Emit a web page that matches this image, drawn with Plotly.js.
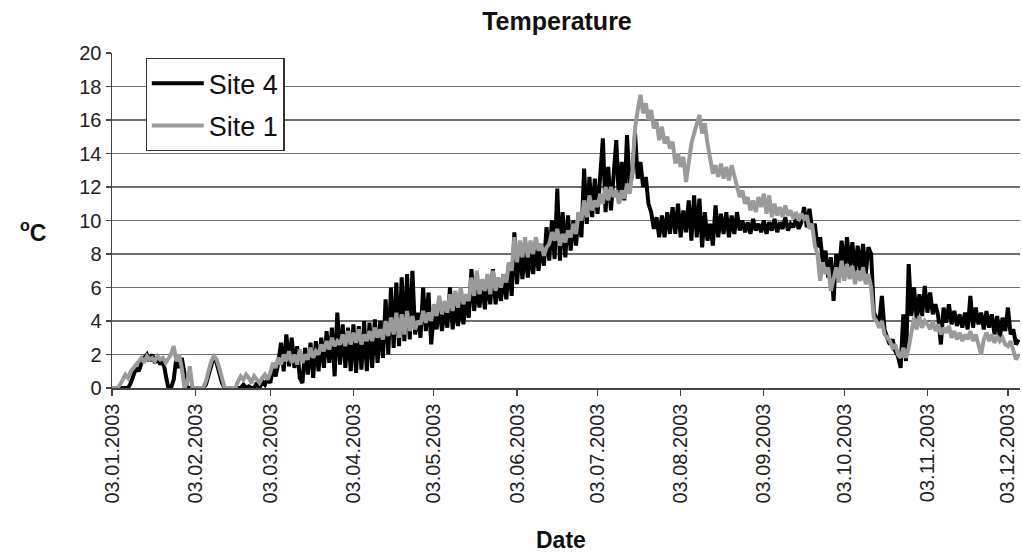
<!DOCTYPE html>
<html>
<head>
<meta charset="utf-8">
<script src="https://cdn.plot.ly/plotly-3.0.1.min.js"></script>
<style>
  html, body { margin: 0; padding: 0; background: #fff; }
  #chart { width: 1022px; height: 554px; }
</style>
</head>
<body>
<div id="chart"></div>
<script>
// Daily readings, first value = 3 Jan 2003
const startDate = "2003-01-03";

const site4 = [
  0, 0, 0, 0, 0,  0, 0, 0.3, 0.8, 1.2,
  1.0, 1.5, 1.8, 2.0, 1.6,  2.0, 1.5, 1.8, 1.4, 1.7,
  0.8, 0, 0, 0.5, 1.8,  1.2, 1.8, 0.9, 0, 0,
  0, 0, 0, 0, 0,  0.2, 0.8, 1.4, 1.9, 1.5,
  0.9, 0.3, 0, 0, 0,  0, 0, 0, 0, 0.2,
  0, 0.1, 0, 0, 0.3,  0, 0.4, 0.2, 0.6, 0.3,
  1.2, 0.7, 1.5, 2.7, 1.0,  3.2, 1.3, 3.0, 1.2, 2.5,
  0.6, 0.3, 2.4, 0.8, 2.7,  0.6, 2.8, 1.0, 3.0, 1.2,
  3.4, 1.5, 3.6, 0.7, 4.5,  1.4, 3.8, 1.2, 3.6, 1.0,
  3.8, 0.9, 3.7, 1.1, 4.0,  1.0, 3.9, 1.2, 4.1, 1.5,
  4.0, 1.8, 5.3, 2.0, 6.0,  2.4, 6.3, 2.5, 6.6, 2.8,
  6.8, 2.9, 7.0, 3.2, 4.5,  3.0, 6.0, 3.4, 5.7, 2.6,
  4.5, 3.5, 5.0, 3.4, 4.8,  3.6, 6.0, 3.5, 5.0, 3.7,
  5.2, 3.8, 5.5, 4.2, 7.1,  4.6, 6.0, 4.8, 6.3, 4.7,
  6.5, 5.0, 7.1, 5.0, 6.4,  5.2, 6.8, 5.3, 7.5, 5.5,
  9.3, 6.2, 8.6, 6.5, 8.4,  6.6, 8.2, 6.8, 8.5, 7.0,
  8.6, 7.3, 9.6, 7.6, 10.0,  7.7, 11.9, 7.6, 10.5, 7.8,
  10.3, 8.2, 10.0, 8.5, 10.5,  9.0, 13.1, 9.8, 12.6, 10.2,
  12.5, 10.4, 13.0, 14.9, 10.5,  13.2, 10.6, 12.8, 14.8, 11.0,
  13.5, 11.2, 15.1, 12.0, 12.8,  15.2, 12.5, 13.5, 12.0, 12.6,
  11.0, 10.5, 9.5, 10.2, 9.0,  10.3, 9.0, 10.5, 9.2, 10.8,
  9.2, 11.0, 9.0, 10.6, 9.3,  11.2, 8.8, 11.5, 9.0, 11.3,
  8.4, 10.5, 8.8, 9.8, 8.5,  10.9, 9.0, 10.4, 9.2, 10.5,
  9.0, 10.3, 9.2, 10.5, 9.4,  10.0, 9.3, 9.9, 9.2, 10.1,
  9.4, 9.8, 9.3, 10.0, 9.2,  9.9, 9.4, 10.1, 9.3, 9.9,
  9.5, 10.2, 9.4, 9.8, 9.6,  10.1, 9.5, 9.9, 10.8, 9.6,
  10.7, 9.5, 9.8, 8.4, 9.0,  7.5, 8.2, 6.6, 7.8, 5.2,
  8.0, 6.8, 8.8, 7.0, 9.0,  7.2, 8.7, 6.9, 8.5, 7.0,
  8.6, 6.8, 8.4, 8.0, 4.5,  4.2, 3.9, 5.5, 3.5, 3.0,
  2.6, 2.9, 2.2, 1.9, 1.2,  4.4, 1.6, 7.4, 4.3, 6.0,
  4.1, 5.6, 4.3, 6.1, 4.5,  5.7, 4.4, 5.0, 4.3, 2.6,
  4.8, 3.9, 5.0, 3.8, 4.6,  3.7, 4.4, 3.6, 4.5, 3.5,
  5.5, 3.6, 4.8, 3.8, 4.5,  3.5, 4.6, 3.6, 4.4, 3.2,
  4.3, 3.0, 4.2, 3.4, 4.8,  3.2, 3.5, 2.6, 2.9
];

const site1 = [
  0, 0, 0, 0.2, 0.5,  0.8, 0.6, 1.0, 1.2, 1.4,
  1.6, 1.8, 1.5, 1.9, 1.7,  1.8, 1.6, 1.9, 1.7, 1.8,
  1.5, 1.8, 2.0, 2.5, 1.6,  2.0, 1.2, 0, 0.3, 1.3,
  0, 0, 0, 0, 0,  0.4, 1.0, 1.6, 1.9, 1.7,
  1.2, 0.5, 0, 0, 0,  0, 0, 0.4, 0.7, 0.5,
  0.8, 0.6, 0.3, 0.7, 0.5,  0.3, 0.6, 0.8, 0.5, 0.9,
  1.5, 1.2, 1.8, 1.4, 2.0,  1.6, 2.2, 1.5, 2.0, 1.4,
  2.3, 1.5, 2.0, 1.7, 2.4,  1.8, 2.2, 2.0, 2.6, 2.2,
  2.8, 2.3, 3.0, 2.5, 2.8,  2.6, 3.2, 2.5, 3.4, 2.6,
  3.3, 2.7, 3.5, 2.6, 3.2,  2.8, 3.4, 2.8, 3.6, 3.0,
  3.5, 2.9, 4.0, 3.1, 4.2,  3.2, 4.5, 3.0, 4.4, 3.2,
  4.6, 3.4, 4.3, 3.5, 4.0,  3.8, 4.6, 3.9, 4.5, 4.0,
  5.0, 4.3, 5.5, 4.4, 5.2,  4.5, 5.6, 4.6, 5.8, 4.8,
  6.0, 5.0, 5.6, 5.2, 6.6,  5.5, 7.0, 5.6, 6.5, 5.8,
  6.8, 5.6, 7.0, 5.8, 6.6,  6.0, 6.8, 6.3, 7.5, 7.0,
  9.0, 7.5, 8.8, 7.8, 9.0,  7.8, 8.8, 8.0, 9.0, 8.2,
  8.6, 7.9, 8.4, 8.6, 9.3,  8.8, 9.5, 8.5, 9.2, 8.7,
  9.4, 9.0, 9.8, 9.2, 10.5,  10.0, 11.2, 10.2, 11.5, 10.6,
  11.2, 10.8, 11.6, 11.0, 12.0,  11.2, 12.0, 11.4, 11.8, 11.0,
  11.8, 11.3, 12.2, 11.6, 13.0,  15.5, 16.6, 17.5, 16.4, 17.0,
  16.0, 16.6, 15.5, 15.9, 14.8,  15.6, 14.6, 15.0, 14.3, 14.7,
  13.4, 14.0, 13.2, 13.8, 12.3,  13.4, 14.6, 15.2, 15.8, 16.3,
  15.2, 15.8, 14.6, 13.5, 12.8,  13.3, 12.6, 13.4, 12.5, 13.2,
  12.4, 13.3, 12.6, 12.0, 11.4,  11.8, 11.0, 11.4, 10.6, 11.2,
  10.5, 11.4, 10.8, 11.6, 10.4,  11.5, 10.2, 11.0, 10.3, 10.8,
  10.2, 10.9, 10.3, 10.6, 10.1,  10.5, 10.0, 10.4, 10.1, 10.3,
  9.5, 9.8, 8.5, 8.0, 6.4,  7.5, 6.8, 7.2, 5.8, 6.5,
  7.2, 6.3, 7.6, 6.4, 7.4,  6.5, 7.3, 6.2, 7.0, 6.4,
  7.2, 6.2, 6.8, 6.0, 4.2,  4.0, 3.6, 4.0, 3.2, 3.0,
  2.8, 2.4, 2.6, 2.0, 1.8,  2.4, 1.8, 2.4, 3.5, 4.2,
  3.5, 4.3, 3.6, 4.0, 3.8,  3.5, 4.0, 3.4, 3.8, 3.2,
  3.6, 3.3, 3.7, 3.0, 3.4,  2.9, 3.3, 2.8, 3.2, 2.9,
  3.4, 2.8, 3.2, 2.6, 2.0,  2.9, 3.3, 2.8, 3.2, 2.7,
  3.1, 2.8, 3.0, 2.6, 2.5,  2.8, 2.2, 1.7, 2.0
];

const tickDates = ["2003-01-03","2003-02-03","2003-03-03","2003-04-03","2003-05-03","2003-06-03",
                   "2003-07-03","2003-08-03","2003-09-03","2003-10-03","2003-11-03","2003-12-03"];
const tickLabels = ["03.01.2003","03.02.2003","03.03.2003","03.04.2003","03.05.2003","03.06.2003",
                    "03.07.2003","03.08.2003","03.09.2003","03.10.2003","03.11.2003","03.12.2003"];
const seriesNames = ["Site 4", "Site 1"];

function dayDates(n) {
  const base = new Date(startDate + "T00:00:00Z");
  const out = [];
  for (let i = 0; i < n; i++) {
    const d = new Date(base.getTime() + i * 86400000);
    out.push(d.toISOString().slice(0, 10));
  }
  return out;
}

const font = "Liberation Sans, Arial, sans-serif";

const traces = [
  { x: dayDates(site4.length), y: site4, name: seriesNames[0], type: "scatter", mode: "lines",
    line: { color: "#000000", width: 4 }, legendgroup: "a" },
  { x: dayDates(site1.length), y: site1, name: seriesNames[1], type: "scatter", mode: "lines",
    line: { color: "#9a9a9a", width: 4 }, legendgroup: "b" }
];

const layout = {
  width: 1022, height: 554,
  margin: { l: 112, r: 2, t: 53, b: 166 },
  paper_bgcolor: "#ffffff", plot_bgcolor: "#ffffff",
  font: { family: font, color: "#222222", size: 19 },
  title: { text: "<b>Temperature</b>", font: { family: font, size: 25, color: "#111" },
           x: 0.545, xref: "container", y: 0.962, yref: "container", xanchor: "center", yanchor: "middle" },
  showlegend: true,
  legend: {
    x: 0.037, y: 0.985, xanchor: "left", yanchor: "top",
    bgcolor: "#ffffff", bordercolor: "#333333", borderwidth: 1.2,
    font: { family: font, size: 27, color: "#111" },
    traceorder: "grouped", tracegroupgap: 4, itemwidth: 52
  },
  xaxis: {
    type: "date",
    range: ["2003-01-03", "2003-12-07 12:00"],
    tickmode: "array", tickvals: tickDates, ticktext: tickLabels,
    tickangle: -90, tickfont: { family: font, size: 20, color: "#222" },
    ticks: "outside", ticklen: 6, tickcolor: "#444", tickwidth: 1.2,
    showgrid: false, showline: true, linecolor: "#444", linewidth: 1.5,
    zeroline: false
  },
  yaxis: {
    range: [0, 20], dtick: 2, tick0: 0,
    ticks: "outside", ticklen: 5, tickcolor: "#444", tickwidth: 1.2,
    tickfont: { family: font, size: 20, color: "#222" },
    showgrid: true, gridcolor: "#6e6e6e", gridwidth: 1.4,
    showline: true, linecolor: "#444", linewidth: 1.5,
    zeroline: false
  },
  annotations: [
    { text: "<b><sup>o</sup>C</b>", xref: "paper", yref: "paper", x: -0.087, y: 0.47,
      xanchor: "center", yanchor: "middle", showarrow: false,
      font: { family: font, size: 23, color: "#111" } },
    { text: "<b>Date</b>", xref: "paper", yref: "paper", x: 0.495, y: -0.455,
      xanchor: "center", yanchor: "middle", showarrow: false,
      font: { family: font, size: 23, color: "#111" } }
  ]
};

Plotly.newPlot("chart", traces, layout, { displayModeBar: false, staticPlot: true });
</script>
</body>
</html>
